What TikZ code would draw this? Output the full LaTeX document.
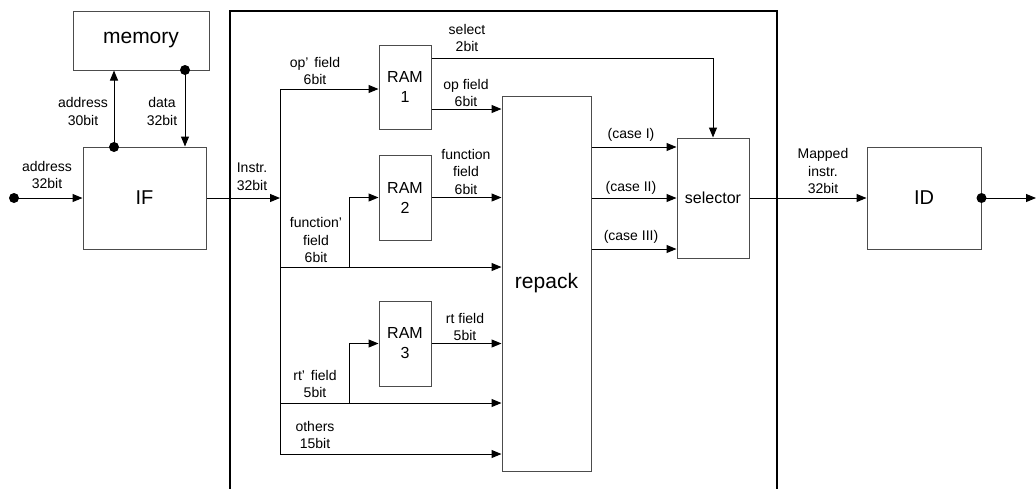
\documentclass[tikz,border=0pt]{standalone}
\usepackage{fontspec}
\setmainfont{Liberation Sans}
\usetikzlibrary{arrows.meta}

\begin{document}
\begin{tikzpicture}[x=1pt, y=-1pt,
    box/.style={draw=black!70, line width=1pt, inner sep=0pt},
    arr/.style={-{Triangle[length=10pt,width=8pt]}, line width=1pt},
    lbl/.style={align=center, font=\fontsize{14}{17.5}\selectfont, inner sep=0pt},
    dot/.style={circle, fill=black, inner sep=0pt, minimum size=10pt}]
                    \useasboundingbox (0,0) rectangle (1036,488);
                    % Frame
                    \begin{scope}
                    \clip (0,0) rectangle (1036,488);
                    \draw[line width=2.5pt] (230,500) -- (230,11) -- (777,11) -- (777,500);
                    \end{scope}
                    % Nodes
                    \node[box, minimum width=136pt, minimum height=59pt, font=\fontsize{21}{24}\selectfont] (mem) at (141,40.5) {memory};
                    \node[box, minimum width=123pt, minimum height=102pt, font=\fontsize{20}{24}\selectfont] (IF) at (144.5,198) {IF};
                    \node[box, minimum width=52pt, minimum height=84pt, align=center, font=\fontsize{16}{20}\selectfont] (RAM1) at (405,87) {RAM\\1};
                    \node[box, minimum width=52pt, minimum height=85pt, align=center, font=\fontsize{16}{20}\selectfont] (RAM2) at (405,197.5) {RAM\\2};
                    \node[box, minimum width=52pt, minimum height=85pt, align=center, font=\fontsize{16}{20}\selectfont] (RAM3) at (405,343.5) {RAM\\3};
                    \node[box, minimum width=89pt, minimum height=375pt, font=\fontsize{21}{24}\selectfont] (repack) at (546.5,283.5) {repack};
                    \node[box, minimum width=72pt, minimum height=120pt, font=\fontsize{16}{20}\selectfont] (sel) at (713,198) {selector};
                    \node[box, minimum width=114pt, minimum height=102pt, font=\fontsize{20}{24}\selectfont] (ID) at (924,198) {ID};
                    % Points
                    \coordinate (in) at (14,198);
                    \coordinate (a30) at (114,147);
                    \coordinate (d32) at (185,70);
                    \coordinate (btop) at (280,89);
                    \coordinate (bbot) at (280,454);
                    \coordinate (f2) at (349,267);
                    \coordinate (r3) at (349,403);
                    \coordinate (out) at (1036,198);
                    % Edges
                    \draw[arr] (in) -- (IF.west);
                    \draw[arr] (a30) -- (a30 |- mem.south);
                    \draw[arr] (d32) -- (d32 |- IF.north);
                    \draw[arr] (IF.east) -- (IF.east -| btop);
                    \draw[line width=1pt] (btop) -- (bbot);
                    \draw[arr] (btop) -- (RAM1.west |- btop);
                    \draw[arr] (RAM1.east |- 0,58) -| (sel.north);
                    \draw[arr] (RAM1.east |- 0,109) -- (repack.west |- 0,109);
                    \draw[arr] (f2) |- (RAM2.west);
                    \draw[arr] (btop |- f2) -- (repack.west |- f2);
                    \draw[arr] (RAM2.east) -- (RAM2.east -| repack.west);
                    \draw[arr] (r3) |- (RAM3.west);
                    \draw[arr] (btop |- r3) -- (repack.west |- r3);
                    \draw[arr] (RAM3.east) -- (RAM3.east -| repack.west);
                    \draw[arr] (bbot) -- (repack.west |- bbot);
                    \draw[arr] (repack.east |- 0,147) -- (sel.west |- 0,147);
                    \draw[arr] (repack.east |- 0,198) -- (sel.west |- 0,198);
                    \draw[arr] (repack.east |- 0,249) -- (sel.west |- 0,249);
                    \draw[arr] (sel.east) -- (ID.west);
                    \draw[arr] (ID.east) -- (out);
                    % Dots
                    \node[dot] at (in) {};
                    \node[dot] at (a30) {};
                    \node[dot] at (d32) {};
                    \node[dot] at (ID.east) {};
                    % Labels
                    \node[lbl] (l-addr) at (47,175) {address\\32bit};
                    \node[lbl] (l-a30) at (83,111.5) {address\\30bit};
                    \node[lbl] (l-data) at (162,111.5) {data\\32bit};
                    \node[lbl] (l-instr) at (252,176.5) {Instr.\\32bit};
                    \node[lbl] (l-op1) at (315,71) {op’\hspace{2pt} field\\6bit};
                    \node[lbl] (l-sel) at (467,38) {select\\2bit};
                    \node[lbl] (l-op) at (466,93) {op field\\6bit};
                    \node[lbl] (l-fn) at (466,171.5) {function\\field\\6bit};
                    \node[lbl] (l-fn1) at (316,240) {function’\\field\\6bit};
                    \node[lbl] (l-rt) at (465,327) {rt field\\5bit};
                    \node[lbl] (l-rt1) at (315,384) {rt’\hspace{2pt} field\\5bit};
                    \node[lbl] (l-oth) at (315,435) {others\\15bit};
                    \node[lbl] (l-case1) at (631,135) {(case I)};
                    \node[lbl] (l-case2) at (631,188) {(case II)};
                    \node[lbl] (l-case3) at (631,237) {(case III)};
                    \node[lbl] (l-map) at (823,171) {Mapped\\instr.\\32bit};
                \end{tikzpicture}
\end{document}
